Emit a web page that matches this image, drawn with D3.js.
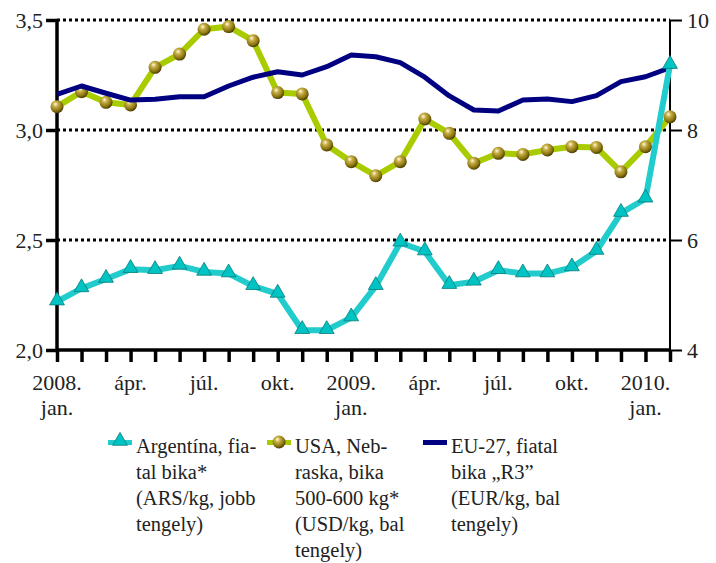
<!DOCTYPE html>
<html>
<head>
<meta charset="utf-8">
<script src="https://d3js.org/d3.v7.min.js"></script>
<style>
  body { margin: 0; background: #fff; }
</style>
</head>
<body>
<div id="chart"></div>
<script>
// months Jan 2008 .. Feb 2010
const months = d3.range(26);
const tickLabels = [
  { i: 0, l1: "2008.", l2: "jan." },
  { i: 3, l1: "ápr.", l2: "" },
  { i: 6, l1: "júl.", l2: "" },
  { i: 9, l1: "okt.", l2: "" },
  { i: 12, l1: "2009.", l2: "jan." },
  { i: 15, l1: "ápr.", l2: "" },
  { i: 18, l1: "júl.", l2: "" },
  { i: 21, l1: "okt.", l2: "" },
  { i: 24, l1: "2010.", l2: "jan." }
];

// Argentina, ARS/kg (right axis)
const argentina = [4.88, 5.12, 5.29, 5.47, 5.45, 5.53, 5.42, 5.39, 5.16, 5.02, 4.36, 4.36, 4.59,
                   5.16, 5.95, 5.79, 5.18, 5.24, 5.45, 5.39, 5.39, 5.50, 5.80, 6.49, 6.75, 9.18];
// USA Nebraska, USD/kg (left axis)
const usa = [3.106, 3.174, 3.126, 3.114, 3.285, 3.345, 3.458, 3.470, 3.406, 3.170, 3.164, 2.932, 2.856,
             2.792, 2.856, 3.050, 2.985, 2.849, 2.894, 2.889, 2.909, 2.924, 2.921, 2.810, 2.924, 3.060];
// EU-27, EUR/kg (left axis)
const eu = [3.162, 3.200, 3.167, 3.136, 3.140, 3.151, 3.151, 3.200, 3.240, 3.265, 3.250, 3.288, 3.341,
            3.333, 3.306, 3.240, 3.155, 3.091, 3.086, 3.136, 3.141, 3.129, 3.156, 3.220, 3.242, 3.283];

const leftTicks = [2.0, 2.5, 3.0, 3.5];
const rightTicks = [4, 6, 8, 10];

const FONT = "Liberation Serif";
const W = 716, H = 563;
const svg = d3.select("#chart").append("svg").attr("width", W).attr("height", H)
  .attr("font-family", FONT);

const x = d3.scaleLinear().domain([0, 25]).range([57, 670]);
const yL = d3.scaleLinear().domain([2.0, 3.5]).range([350, 20]);
const yR = d3.scaleLinear().domain([4, 10]).range([350, 20]);

const fmt = d => d.toFixed(1).replace(".", ",");

// gradient for the balls
const defs = svg.append("defs");
const rg = defs.append("radialGradient").attr("id", "ball")
  .attr("cx", "40%").attr("cy", "35%").attr("r", "65%").attr("fx", "38%").attr("fy", "30%");
rg.append("stop").attr("offset", "0%").attr("stop-color", "#fffbe0");
rg.append("stop").attr("offset", "30%").attr("stop-color", "#c8b048");
rg.append("stop").attr("offset", "75%").attr("stop-color", "#8a7410");
rg.append("stop").attr("offset", "100%").attr("stop-color", "#4a3c00");

// dotted grid lines
svg.append("g").selectAll("line")
  .data([2.5, 3.0, 3.5])
  .join("line")
  .attr("x1", x(0)).attr("x2", x(25))
  .attr("y1", d => yL(d)).attr("y2", d => yL(d))
  .attr("stroke", "#000").attr("stroke-width", 3)
  .attr("stroke-dasharray", "3,3");

// left axis
const gl = svg.append("g").attr("transform", `translate(${x(0)},0)`)
  .call(d3.axisLeft(yL).tickValues(leftTicks).tickFormat(fmt).tickSize(11).tickPadding(3));
gl.attr("font-family", FONT).attr("font-size", 22);
gl.select(".domain").attr("stroke", "#000").attr("stroke-width", 3.5).attr("d", `M0,${yL(3.5)}V${yL(2.0)}`);
gl.selectAll(".tick line").attr("stroke", "#000").attr("stroke-width", 3.5);
gl.selectAll(".tick text").attr("fill", "#222");

// right axis
const gr = svg.append("g").attr("transform", `translate(${x(25)},0)`)
  .call(d3.axisRight(yR).tickValues(rightTicks).tickFormat(d3.format("d")).tickSize(12).tickPadding(5));
gr.attr("font-family", FONT).attr("font-size", 22);
gr.select(".domain").attr("stroke", "#000").attr("stroke-width", 2).attr("d", `M0,${yR(10)}V${yR(4)}`);
gr.selectAll(".tick line").attr("stroke", "#000").attr("stroke-width", 2);
gr.selectAll(".tick text").attr("fill", "#222");

// bottom axis with a tick at every month
const gb = svg.append("g").attr("transform", `translate(0,${yL(2.0)})`)
  .call(d3.axisBottom(x).tickValues(months).tickFormat("").tickSize(12));
gb.select(".domain").attr("stroke", "#000").attr("stroke-width", 3.5).attr("d", `M${x(0)},0H${x(25)}`);
gb.selectAll(".tick line").attr("stroke", "#000").attr("stroke-width", 3.5);

const xl = svg.append("g").attr("font-family", FONT).attr("font-size", 22)
  .selectAll("text").data(tickLabels).join("text")
  .attr("x", d => x(d.i)).attr("y", 390)
  .attr("text-anchor", "middle").attr("fill", "#222");
xl.append("tspan").attr("x", d => x(d.i)).text(d => d.l1);
xl.append("tspan").attr("x", d => x(d.i)).attr("dy", 25).text(d => d.l2);

// USA line + balls
svg.append("path").datum(usa)
  .attr("fill", "none").attr("stroke", "#a8cc00").attr("stroke-width", 6).attr("stroke-linejoin", "round")
  .attr("d", d3.line().x((d, i) => x(i)).y(d => yL(d)));
svg.append("g").selectAll("circle").data(usa).join("circle")
  .attr("cx", (d, i) => x(i)).attr("cy", d => yL(d)).attr("r", 6.5)
  .attr("fill", "url(#ball)");

// EU line
svg.append("path").datum(eu)
  .attr("fill", "none").attr("stroke", "#000080").attr("stroke-width", 5).attr("stroke-linejoin", "round")
  .attr("d", d3.line().x((d, i) => x(i)).y(d => yL(d)));

// Argentina line + triangles
svg.append("path").datum(argentina)
  .attr("fill", "none").attr("stroke", "#22cccc").attr("stroke-width", 6).attr("stroke-linejoin", "round")
  .attr("d", d3.line().x((d, i) => x(i)).y(d => yR(d)));
const tri = d3.symbol().type(d3.symbolTriangle).size(95);
svg.append("g").selectAll("path").data(argentina).join("path")
  .attr("transform", (d, i) => `translate(${x(i)},${yR(d) - 1})`)
  .attr("d", tri)
  .attr("fill", "#00c4c4").attr("stroke", "#0a7a7a").attr("stroke-width", 0.8);

// legend
const legend = [
  { x: 108, lines: ["Argentína, fia-", "tal bika*", "(ARS/kg, jobb", "tengely)"], kind: "tri" },
  { x: 267, lines: ["USA, Neb-", "raska, bika", "500-600 kg*", "(USD/kg, bal", "tengely)"], kind: "ball" },
  { x: 423, lines: ["EU-27, fiatal", "bika „R3”", "(EUR/kg, bal", "tengely)"], kind: "line" }
];
const lg = svg.append("g").selectAll("g").data(legend).join("g")
  .attr("transform", d => `translate(${d.x},0)`);
lg.append("rect").attr("x", 0).attr("y", 440).attr("width", 24).attr("height", 5)
  .attr("fill", d => d.kind === "tri" ? "#22cccc" : d.kind === "ball" ? "#a8cc00" : "#000080");
lg.filter(d => d.kind === "tri").append("path")
  .attr("transform", "translate(12,441)").attr("d", tri)
  .attr("fill", "#00c4c4").attr("stroke", "#0a7a7a").attr("stroke-width", 0.8);
lg.filter(d => d.kind === "ball").append("circle")
  .attr("cx", 12).attr("cy", 442).attr("r", 6.5).attr("fill", "url(#ball)");
lg.append("text").attr("x", 28).attr("y", 453).attr("font-family", FONT).attr("font-size", 20.5).attr("fill", "#222")
  .selectAll("tspan").data(d => d.lines).join("tspan")
  .attr("x", 28).attr("dy", (d, i) => i === 0 ? 0 : 26).text(d => d);
</script>
</body>
</html>
